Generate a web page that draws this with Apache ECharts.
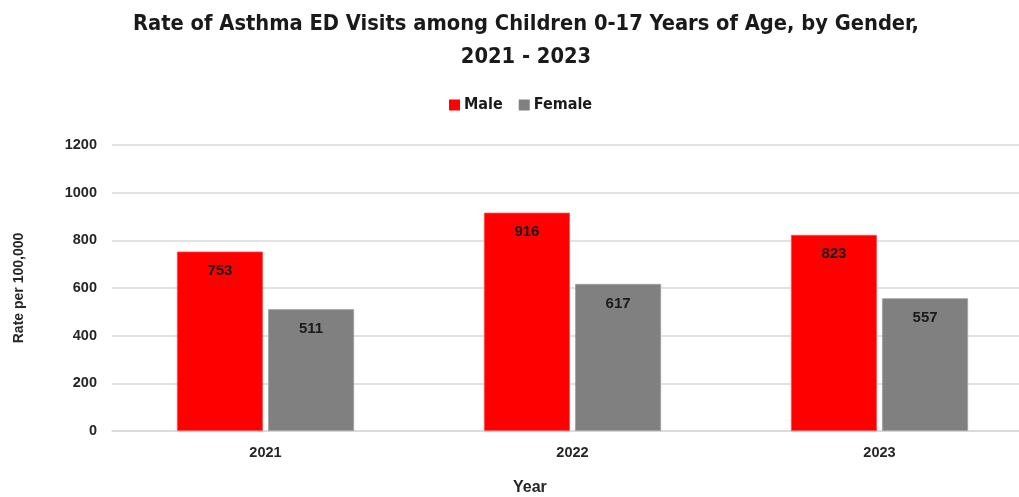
<!DOCTYPE html>
<html>
<head>
<meta charset="utf-8">
<script src="https://cdn.jsdelivr.net/npm/echarts@6/dist/echarts.min.js"></script>
<style>html,body{margin:0;padding:0;background:#fff}#c{width:1019px;height:497px}</style>
</head>
<body>
<div id="c"></div>
<script>
const categories = ['2021', '2022', '2023'];
const maleValues = [753, 916, 823];
const femaleValues = [511, 617, 557];
const yTicks = { min: 0, max: 1200, interval: 200 };

const chart = echarts.init(document.getElementById('c'));
const condensed = '"DejaVu Sans Condensed", "DejaVu Sans", sans-serif';
const labelFont = '"Liberation Sans", Arial, sans-serif';
chart.setOption({
  animation: false,
  backgroundColor: '#ffffff',
  title: {
    text: 'Rate of Asthma ED Visits among Children 0-17 Years of Age, by Gender,\n2021 - 2023',
    left: 521,
    top: 3,
    textAlign: 'center',
    textStyle: { fontFamily: condensed, fontWeight: 'bold', fontSize: 21.7, color: '#1a1a1a', lineHeight: 33 }
  },
  legend: {
    data: ['Male', 'Female'],
    left: 444,
    top: 92,
    itemWidth: 11,
    itemHeight: 11,
    itemGap: 16,
    icon: 'rect',
    itemStyle: { borderWidth: 0 },
    textStyle: { fontFamily: condensed, fontWeight: 'bold', fontSize: 16, color: '#1a1a1a', padding: [0, 0, 0, -1] }
  },
  grid: { left: 112, top: 145, width: 921, height: 286, containLabel: false, outerBoundsMode: 'none' },
  xAxis: {
    type: 'category',
    data: categories,
    axisLine: { lineStyle: { color: '#d9d9d9', width: 1.5 } },
    axisTick: { show: false },
    axisLabel: { fontFamily: labelFont, fontWeight: 'bold', fontSize: 14.5, color: '#262626', margin: 14 }
  },
  yAxis: {
    type: 'value',
    min: yTicks.min,
    max: yTicks.max,
    interval: yTicks.interval,
    name: 'Rate per 100,000',
    nameLocation: 'middle',
    nameGap: 86,
    nameTextStyle: { fontFamily: labelFont, fontWeight: 'bold', fontSize: 14, color: '#262626' },
    axisLine: { show: false },
    axisTick: { show: false },
    splitLine: { lineStyle: { color: '#d9d9d9', width: 1.5 } },
    axisLabel: { fontFamily: labelFont, fontWeight: 'bold', fontSize: 14.5, color: '#262626', margin: 15, formatter: v => String(v) }
  },
  graphic: [{
    type: 'text',
    left: 513,
    top: 480,
    style: { text: 'Year', font: 'bold 16px "Liberation Sans", Arial, sans-serif', fill: '#262626' }
  }],
  series: [
    {
      name: 'Male', type: 'bar', data: maleValues,
      barWidth: 86, barGap: '6%',
      itemStyle: { color: '#ff0000', borderColor: '#ff5050', borderWidth: 0.8 },
      label: { show: true, position: 'insideTop', distance: 12, fontFamily: labelFont, fontWeight: 'bold', fontSize: 15, color: '#1a1a1a' }
    },
    {
      name: 'Female', type: 'bar', data: femaleValues,
      barWidth: 86,
      itemStyle: { color: '#808080', borderColor: '#a0a0a0', borderWidth: 0.8 },
      label: { show: true, position: 'insideTop', distance: 12, fontFamily: labelFont, fontWeight: 'bold', fontSize: 15, color: '#1a1a1a' }
    }
  ]
});
</script>
</body>
</html>
